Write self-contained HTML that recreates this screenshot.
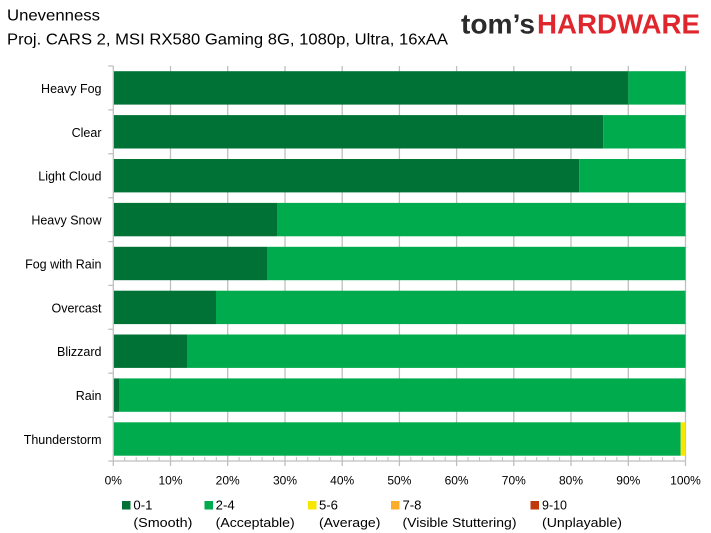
<!DOCTYPE html>
<html>
<head>
<meta charset="utf-8">
<style>
html,body{margin:0;padding:0;background:#fff;}
svg{display:block;}
text{font-family:"Liberation Sans",sans-serif;fill:#000;}
</style>
</head>
<body>
<svg width="711" height="533" viewBox="0 0 711 533" xmlns="http://www.w3.org/2000/svg">
<rect width="711" height="533" fill="#fff"/>
<!-- Title -->
<text x="7" y="20.7" font-size="16" textLength="93" lengthAdjust="spacingAndGlyphs">Unevenness</text>
<text x="7" y="44.7" font-size="16" textLength="441" lengthAdjust="spacingAndGlyphs">Proj. CARS 2, MSI RX580 Gaming 8G, 1080p, Ultra, 16xAA</text>
<!-- Logo -->
<text x="461" y="33.3" font-size="28" font-weight="bold" style="fill:#2b2b2b" textLength="74" lengthAdjust="spacingAndGlyphs">tom’s</text>
<text x="537" y="33.3" font-size="28" font-weight="bold" style="fill:#e0262d" textLength="163" lengthAdjust="spacingAndGlyphs">HARDWARE</text>

<!-- Gridlines -->
<g stroke="#bfbfbf" stroke-width="1.3">
<line x1="170.5" y1="66" x2="170.5" y2="461"/>
<line x1="227.7" y1="66" x2="227.7" y2="461"/>
<line x1="285" y1="66" x2="285" y2="461"/>
<line x1="342.2" y1="66" x2="342.2" y2="461"/>
<line x1="399.4" y1="66" x2="399.4" y2="461"/>
<line x1="456.6" y1="66" x2="456.6" y2="461"/>
<line x1="513.8" y1="66" x2="513.8" y2="461"/>
<line x1="571" y1="66" x2="571" y2="461"/>
<line x1="628.3" y1="66" x2="628.3" y2="461"/>
<line x1="685.5" y1="66" x2="685.5" y2="461"/>
</g>

<!-- Bars: x0=113.3, w=572.2, catH=43.89 -->
<g>
<!-- Heavy Fog -->
<rect x="113.3" y="71.2" width="515" height="33.4" fill="#007236"/>
<rect x="628.3" y="71.2" width="57.2" height="33.4" fill="#00ab4e"/>
<!-- Clear -->
<rect x="113.3" y="115.1" width="489.8" height="33.4" fill="#007236"/>
<rect x="603.1" y="115.1" width="82.4" height="33.4" fill="#00ab4e"/>
<!-- Light Cloud -->
<rect x="113.3" y="159" width="465.8" height="33.4" fill="#007236"/>
<rect x="579.1" y="159" width="106.4" height="33.4" fill="#00ab4e"/>
<!-- Heavy Snow -->
<rect x="113.3" y="202.9" width="163.7" height="33.4" fill="#007236"/>
<rect x="277" y="202.9" width="408.5" height="33.4" fill="#00ab4e"/>
<!-- Fog with Rain -->
<rect x="113.3" y="246.8" width="153.7" height="33.4" fill="#007236"/>
<rect x="267" y="246.8" width="418.5" height="33.4" fill="#00ab4e"/>
<!-- Overcast -->
<rect x="113.3" y="290.7" width="102.7" height="33.4" fill="#007236"/>
<rect x="216" y="290.7" width="469.5" height="33.4" fill="#00ab4e"/>
<!-- Blizzard -->
<rect x="113.3" y="334.5" width="73.7" height="33.4" fill="#007236"/>
<rect x="187" y="334.5" width="498.5" height="33.4" fill="#00ab4e"/>
<!-- Rain -->
<rect x="113.3" y="378.4" width="5.7" height="33.4" fill="#007236"/>
<rect x="119" y="378.4" width="566.5" height="33.4" fill="#00ab4e"/>
<!-- Thunderstorm -->
<rect x="113.3" y="422.3" width="567.4" height="33.4" fill="#00ab4e"/>
<rect x="680.7" y="422.3" width="4.8" height="33.4" fill="#f7e600"/>
</g>

<!-- Axes -->
<g stroke="#bfbfbf" stroke-width="1.3">
<line x1="113.3" y1="66" x2="113.3" y2="461"/>
<line x1="113.3" y1="461" x2="685.5" y2="461"/>
<!-- left ticks -->
<line x1="108.3" y1="66" x2="113.3" y2="66"/>
<line x1="108.3" y1="109.9" x2="113.3" y2="109.9"/>
<line x1="108.3" y1="153.8" x2="113.3" y2="153.8"/>
<line x1="108.3" y1="197.7" x2="113.3" y2="197.7"/>
<line x1="108.3" y1="241.6" x2="113.3" y2="241.6"/>
<line x1="108.3" y1="285.4" x2="113.3" y2="285.4"/>
<line x1="108.3" y1="329.3" x2="113.3" y2="329.3"/>
<line x1="108.3" y1="373.2" x2="113.3" y2="373.2"/>
<line x1="108.3" y1="417.1" x2="113.3" y2="417.1"/>
<line x1="108.3" y1="461" x2="113.3" y2="461"/>
<!-- major bottom ticks -->
<line x1="113.3" y1="461" x2="113.3" y2="466"/>
<line x1="170.5" y1="461" x2="170.5" y2="466"/>
<line x1="227.7" y1="461" x2="227.7" y2="466"/>
<line x1="285" y1="461" x2="285" y2="466"/>
<line x1="342.2" y1="461" x2="342.2" y2="466"/>
<line x1="399.4" y1="461" x2="399.4" y2="466"/>
<line x1="456.6" y1="461" x2="456.6" y2="466"/>
<line x1="513.8" y1="461" x2="513.8" y2="466"/>
<line x1="571" y1="461" x2="571" y2="466"/>
<line x1="628.3" y1="461" x2="628.3" y2="466"/>
<line x1="685.5" y1="461" x2="685.5" y2="466"/>
</g>
<!-- minor ticks every 2% -->
<g stroke="#bfbfbf" stroke-width="1">
<path d="M124.7 457V461M136.2 457V461M147.6 457V461M159.1 457V461
M181.9 457V461M193.4 457V461M204.8 457V461M216.3 457V461
M239.1 457V461M250.6 457V461M262.1 457V461M273.5 457V461
M296.4 457V461M307.8 457V461M319.3 457V461M330.7 457V461
M353.6 457V461M365 457V461M376.5 457V461M387.9 457V461
M410.8 457V461M422.3 457V461M433.7 457V461M445.2 457V461
M468 457V461M479.5 457V461M490.9 457V461M502.4 457V461
M525.2 457V461M536.7 457V461M548.1 457V461M559.6 457V461
M582.5 457V461M593.9 457V461M605.4 457V461M616.8 457V461
M639.7 457V461M651.1 457V461M662.6 457V461M674 457V461"/>
</g>

<!-- Category labels -->
<g font-size="12.5" text-anchor="end">
<text x="101.5" y="92.9">Heavy Fog</text>
<text x="101.5" y="136.8">Clear</text>
<text x="101.5" y="180.7">Light Cloud</text>
<text x="101.5" y="224.6">Heavy Snow</text>
<text x="101.5" y="268.5">Fog with Rain</text>
<text x="101.5" y="312.4">Overcast</text>
<text x="101.5" y="356.2">Blizzard</text>
<text x="101.5" y="400.1">Rain</text>
<text x="101.5" y="444">Thunderstorm</text>
</g>

<!-- X tick labels -->
<g font-size="12" text-anchor="middle">
<text x="113.3" y="484.5">0%</text>
<text x="170.5" y="484.5">10%</text>
<text x="227.7" y="484.5">20%</text>
<text x="285" y="484.5">30%</text>
<text x="342.2" y="484.5">40%</text>
<text x="399.4" y="484.5">50%</text>
<text x="456.6" y="484.5">60%</text>
<text x="513.8" y="484.5">70%</text>
<text x="571" y="484.5">80%</text>
<text x="628.3" y="484.5">90%</text>
<text x="685.5" y="484.5">100%</text>
</g>

<!-- Legend -->
<rect x="122" y="501" width="8.5" height="8.5" fill="#007236"/>
<rect x="204.5" y="501" width="8.5" height="8.5" fill="#00ab4e"/>
<rect x="308" y="501" width="8.5" height="8.5" fill="#f7e600"/>
<rect x="391" y="501" width="8.5" height="8.5" fill="#fbad29"/>
<rect x="530.5" y="501" width="8.5" height="8.5" fill="#c0390b"/>
<g font-size="12.5">
<text x="133.4" y="509.5" textLength="19" lengthAdjust="spacingAndGlyphs">0-1</text>
<text x="215.7" y="509.5" textLength="19" lengthAdjust="spacingAndGlyphs">2-4</text>
<text x="319" y="509.5" textLength="19" lengthAdjust="spacingAndGlyphs">5-6</text>
<text x="402.5" y="509.5" textLength="19" lengthAdjust="spacingAndGlyphs">7-8</text>
<text x="542" y="509.5" textLength="25" lengthAdjust="spacingAndGlyphs">9-10</text>
<text x="133.4" y="527" textLength="59" lengthAdjust="spacingAndGlyphs">(Smooth)</text>
<text x="215.7" y="527" textLength="79" lengthAdjust="spacingAndGlyphs">(Acceptable)</text>
<text x="319" y="527" textLength="61.4" lengthAdjust="spacingAndGlyphs">(Average)</text>
<text x="402.5" y="527" textLength="114" lengthAdjust="spacingAndGlyphs">(Visible Stuttering)</text>
<text x="542" y="527" textLength="80" lengthAdjust="spacingAndGlyphs">(Unplayable)</text>
</g>
</svg>
</body>
</html>
